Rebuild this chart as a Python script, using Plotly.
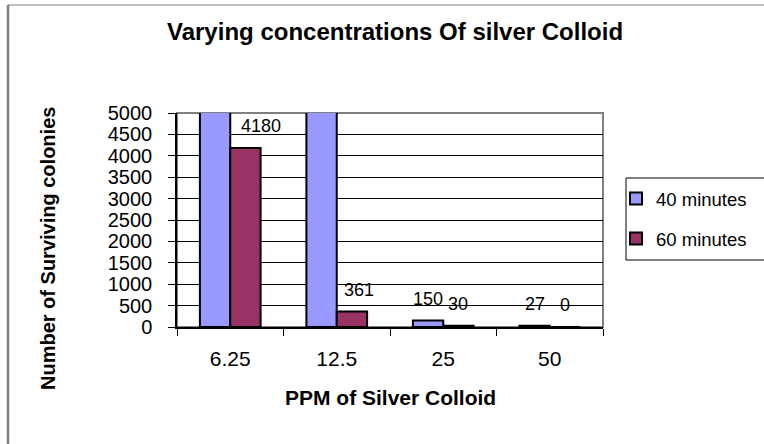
import plotly.graph_objects as go

# Dados
ppm = ["6.25", "12.5", "25", "50"]
min40 = [6000, 6000, 150, 27]   # 6.25 e 12.5 acima da escala (cortadas no gráfico)
min60 = [4180, 361, 30, 0]
y_max = 5000

FONT = "Arial, Liberation Sans, sans-serif"
W, H = 764, 444
L, R, T, B = 177, 603, 113, 327


def px_x(px):
    return (px - L) / (R - L)


def px_y(py):
    return (B - py) / (B - T)


fig = go.Figure()
fig.add_trace(go.Bar(x=ppm, y=min40, name="40 minutes", legendgroup="a",
                     marker=dict(color="#9999FF", line=dict(color="black", width=2))))
fig.add_trace(go.Bar(x=ppm, y=min60, name="60 minutes", legendgroup="b",
                     marker=dict(color="#993366", line=dict(color="black", width=2))))

# Rótulos de dados (só os visíveis); x como índice da categoria
# pequenos ajustes horizontais como no original (série, índice) -> px
nudge = {(1, 0): 16, (1, 1): 7}
annotations = []
for s, (vals, shift) in enumerate(((min40, -15), (min60, 15))):
    for i, v in enumerate(vals):
        if v <= y_max:
            annotations.append(dict(x=i, y=v, xref="x", yref="y", text=str(v), showarrow=False,
                                    xshift=shift + nudge.get((s, i), 0), xanchor="center",
                                    yanchor="bottom", yshift=10,
                                    font=dict(family=FONT, size=18, color="black")))

annotations += [
    dict(text="<b>Varying concentrations Of silver Colloid</b>", x=px_x(395), y=px_y(31),
         xanchor="center", yanchor="middle",
         xref="paper", yref="paper", showarrow=False, font=dict(family=FONT, size=24, color="black")),
    dict(text="<b>PPM of Silver Colloid</b>", x=px_x(390), y=px_y(397),
         xanchor="center", yanchor="middle",
         xref="paper", yref="paper", showarrow=False, font=dict(family=FONT, size=21, color="black")),
    dict(text="<b>Number of Surviving colonies</b>", x=px_x(48), y=px_y(249), textangle=-90,
         xanchor="center", yanchor="middle",
         xref="paper", yref="paper", showarrow=False, font=dict(family=FONT, size=20, color="black")),
]

shapes = [
    # moldura externa
    dict(type="line", xref="paper", yref="paper", x0=px_x(8), x1=px_x(8), y0=px_y(5), y1=px_y(460),
         line=dict(color="#808080", width=2.5)),
    dict(type="line", xref="paper", yref="paper", x0=px_x(8), x1=px_x(780), y0=px_y(5), y1=px_y(5),
         line=dict(color="#808080", width=1)),
    # borda da área do gráfico
    dict(type="rect", xref="paper", yref="paper", x0=0, x1=1, y0=0, y1=1,
         line=dict(color="#808080", width=2), layer="below"),
    # caixa da legenda (vai até a borda direita)
    dict(type="rect", xref="paper", yref="paper", x0=px_x(626), x1=px_x(780), y0=px_y(178), y1=px_y(260),
         line=dict(color="black", width=1)),
]

fig.update_layout(
    width=W, height=H,
    margin=dict(l=L, r=W - R, t=T, b=H - B, pad=0),
    paper_bgcolor="white", plot_bgcolor="white",
    barmode="group", bargap=0.43, bargroupgap=0,
    font=dict(family=FONT, size=18, color="black"),
    annotations=annotations, shapes=shapes,
    legend=dict(x=px_x(616), y=px_y(180), xanchor="left", yanchor="top",
                borderwidth=0, bgcolor="rgba(0,0,0,0)",
                font=dict(family=FONT, size=18.5, color="black"),
                tracegroupgap=13, itemwidth=30),
    xaxis=dict(type="category", range=[-0.5, 3.5], tickson="boundaries", ticks="outside", ticklen=7,
               tickcolor="black", showline=True, linecolor="black", linewidth=1.5, showgrid=False,
               tickfont=dict(family=FONT, size=21), ticklabelstandoff=12),
    yaxis=dict(range=[0, y_max], dtick=500, ticks="outside", ticklen=7, tickcolor="black",
               showline=True, linecolor="black", linewidth=1.5, gridcolor="black", gridwidth=1,
               zeroline=False, tickfont=dict(family=FONT, size=20), ticklabelstandoff=12),
)

# Sem a margem padrão do body, o gráfico fica alinhado à janela
fig.write_html("out.html", config={"displayModeBar": False},
               post_script="document.body.style.margin='0';")
